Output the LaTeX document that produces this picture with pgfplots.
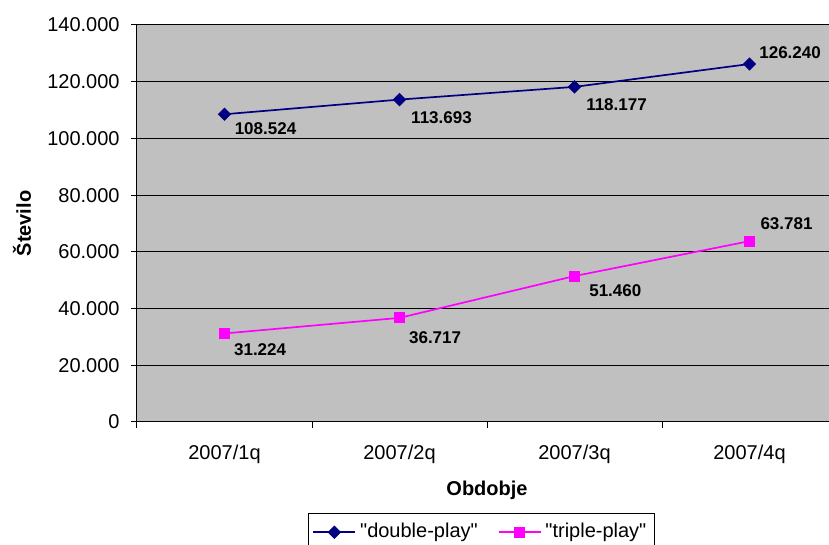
\documentclass[border=0pt]{standalone}
\usepackage{fontspec}
\setmainfont{Liberation Sans}
\usepackage{pgfplots}
\usepackage{pgfplotstable}
\pgfplotsset{compat=1.18}
\definecolor{dbl}{RGB}{0,0,128}
\definecolor{trp}{RGB}{255,0,255}
\definecolor{bgc}{RGB}{192,192,192}

\pgfplotstableread{
x y lab dx dy
0 108524 108.524 20.5 -7.2
1 113693 113.693 21 -9
2 118177 118.177 21 -8.9
3 126240 126.240 20.3 5.7
}\dbltable
\pgfplotstableread{
x y lab dx dy
0 31224 31.224 17.8 -7.9
1 36717 36.717 17.8 -9.9
2 51460 51.460 20.4 -7.5
3 63781 63.781 18.5 8.5
}\trptable

\begin{document}
\begin{tikzpicture}
\useasboundingbox (-68.5pt,-61.5pt) rectangle (346pt,211pt);
\clip (-68.5pt,-61.5pt) rectangle (346pt,211pt);
\begin{axis}[
  at={(0,0)}, anchor=south west,
  scale only axis, width=350pt, height=198.5pt,
  xmin=-0.5, xmax=3.5, ymin=0, ymax=140000,
  axis background/.style={fill=bgc},
  axis line style={black, line width=0.5pt},
  xtick={0,1,2,3},
  xticklabels={2007/1q,2007/2q,2007/3q,2007/4q},
  minor xtick={-0.5,0.5,1.5,2.5,3.5},
  major x tick style={draw=none},
  minor x tick style={black, line width=0.5pt},
  ytick={0,20000,40000,60000,80000,100000,120000,140000},
  y tick style={black, line width=0.5pt},
  tick align=outside, tick pos=left,
  major tick length=3pt, minor tick length=3pt,
  scaled y ticks=false,
  /pgf/number format/fixed,
  /pgf/number format/precision=0,
  /pgf/number format/1000 sep={.},
  /pgf/number format/assume math mode=true,
  ticklabel style={font=\fontsize{10}{12}\selectfont},
  ymajorgrids, major grid style={black, line width=0.5pt},
  xticklabel style={inner sep=0pt, anchor=north, yshift=-8.5pt},
  yticklabel style={inner sep=0pt, anchor=east, xshift=-5.5pt},
  every axis x label/.style={at={(axis description cs:0.5,-0.172)}, anchor=center, font=\fontsize{10}{12}\selectfont\bfseries},
  every axis y label/.style={at={(axis description cs:-0.1643,0.5)}, anchor=center, rotate=90, font=\fontsize{10}{12}\selectfont\bfseries},
  xlabel={Obdobje},
  ylabel={Število},
  legend columns=2,
  legend style={at={(0.492,-0.2292)}, anchor=north, draw=black, line width=0.5pt,
    font=\fontsize{10}{12}\selectfont, inner xsep=2pt, inner ysep=3pt,
    nodes={inner sep=2pt},
    /tikz/every even column/.append style={column sep=8pt}},
  legend image code/.code={\draw[mark repeat=2,mark phase=2,#1] plot coordinates {(0pt,0pt) (10.5pt,0pt) (21pt,0pt)};},
  nodes near coords={\pgfplotspointmeta},
  point meta=explicit symbolic,
  visualization depends on={\thisrow{dx}\as\mydx},
  visualization depends on={\thisrow{dy}\as\mydy},
  every node near coord/.append style={anchor=center, xshift=\mydx pt, yshift=\mydy pt, text=black, inner sep=0pt, font=\fontsize{8.5}{10}\selectfont\bfseries},
]
\addplot[dbl, line width=0.85pt, mark=square*, mark size=1.95pt, mark options={rotate=45, solid}]
  table[x=x, y=y, meta=lab] {\dbltable};
\addlegendentry{\textquotedbl double-play\textquotedbl}
\addplot[trp, line width=0.85pt, mark=square*, mark size=2.3pt, mark options={solid}]
  table[x=x, y=y, meta=lab] {\trptable};
\addlegendentry{\textquotedbl triple-play\textquotedbl}
\end{axis}
\end{tikzpicture}
\end{document}
